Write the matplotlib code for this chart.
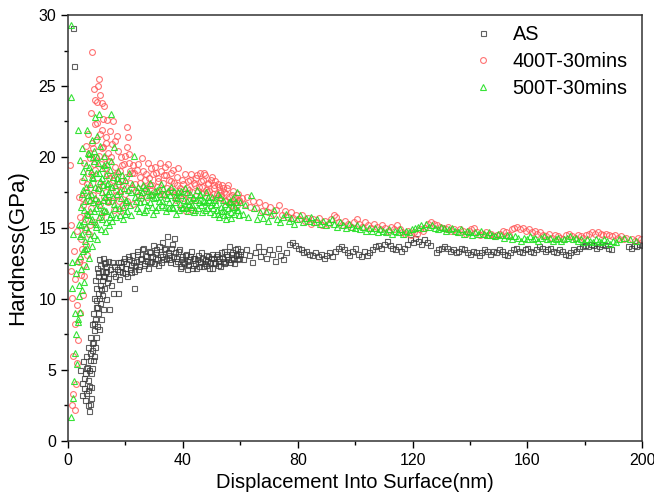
import matplotlib.pyplot as plt
from matplotlib.ticker import MultipleLocator

plt.rcParams['font.family'] = ['Liberation Sans', 'DejaVu Sans']

# ---- AS (black squares) ----
as_x = [1.8, 2.2,
        4.3, 4.8, 5.2, 5.5, 5.8, 6.0, 6.2, 6.4, 6.6, 6.8,
        7.0, 7.1, 7.3, 7.4, 7.6, 7.8, 7.9, 8.0, 8.2, 8.3,
        8.5, 8.6, 8.8, 8.9, 9.1, 9.2, 9.4, 9.5, 9.7, 9.8,
        10.0, 10.1, 10.3, 10.4, 10.6, 10.8, 10.9, 11.1, 11.3, 11.5,
        11.7, 11.9, 12.1, 12.3, 12.5, 12.7, 12.9, 13.1, 13.3, 13.6,
        13.8, 14.1, 14.3, 14.6, 14.9, 15.2, 15.5, 15.8, 16.1, 16.4,
        17.4, 22.9,
        17.0, 17.6, 18.2, 18.8, 19.4, 20.0, 20.6, 21.2, 21.8, 22.4,
        23.0, 23.6, 24.2, 24.8, 25.4, 26.0, 26.6, 27.2, 27.8, 28.4,
        29.0, 29.6, 30.2, 30.8, 31.4, 32.0, 32.6, 33.2, 33.8, 34.4,
        35.0, 35.6, 36.2, 36.8, 37.4, 38.0, 38.6, 39.2, 39.8, 40.4,
        41.0, 41.6, 42.2, 42.8, 43.4, 44.0, 44.6, 45.2, 45.8, 46.4,
        47.0, 47.6, 48.2, 48.8, 49.4, 50.0, 50.6, 51.2, 51.8, 52.4,
        53.0, 53.6, 54.2, 54.8, 55.4, 56.0, 56.6, 57.2, 57.8, 58.4,
        59.0, 59.6,
        60, 61, 62, 63, 64, 65, 66, 67, 68, 69,
        70, 71, 72, 73, 74, 75, 76, 77, 78, 79,
        80, 81, 82, 83, 84, 85, 86, 87, 88, 89,
        90, 91, 92, 93, 94, 95, 96, 97, 98, 99,
        100, 101, 102, 103, 104, 105, 106, 107, 108, 109,
        110, 111, 112, 113, 114, 115, 116, 117, 118, 119,
        120, 121, 122, 123, 124, 125, 126,
        128, 129, 130, 131, 132, 133, 134, 135, 136, 137,
        138, 139, 140, 141, 142, 143, 144, 145, 146, 147,
        148, 149, 150, 151, 152, 153, 154, 155, 156, 157,
        158, 159, 160, 161, 162, 163, 164, 165, 166, 167,
        168, 169, 170, 171, 172, 173, 174, 175, 176, 177,
        178, 179, 180, 181, 182, 183, 184, 185, 186, 187,
        188, 189,
        195, 196, 197, 198, 199, 200]
as_y = [29.1, 26.4,
        5.0, 4.1, 5.6, 3.7, 4.8, 2.9, 6.0, 3.4, 5.2, 2.5,
        4.3, 6.6, 2.1, 3.9, 5.7, 7.3, 3.0, 4.8, 6.4, 8.2,
        5.1, 7.0, 9.0, 6.0, 7.8, 10.1, 8.6, 11.3, 7.3, 9.4,
        12.2, 8.1, 10.4, 9.0, 11.6, 7.9, 12.8, 9.7, 11.0, 8.6,
        12.0, 10.3, 11.6, 9.3, 12.5, 10.8, 11.9, 10.0, 12.3, 11.2,
        12.7, 11.5, 9.3, 12.1, 11.0, 12.6, 11.8, 10.4, 12.3, 11.6,
        10.4, 10.8,
        12.1, 11.4, 12.6, 11.9, 12.9, 12.2, 11.6, 12.8, 12.4, 13.1,
        12.0, 12.7, 13.4, 12.3, 12.9, 13.6, 12.5, 13.0, 12.2, 13.3,
        12.7, 13.8, 12.9, 13.5, 12.4, 13.2, 14.0, 12.8, 13.6, 14.4,
        13.1, 12.6, 13.9, 14.3, 13.3, 12.7, 13.5, 12.3, 13.0, 12.5,
        13.2, 12.1, 12.8, 13.4, 12.4, 12.9, 12.2, 13.1, 12.6, 13.3,
        12.3, 12.8, 12.4, 13.0, 12.6, 12.2, 12.9, 12.5, 13.2, 12.7,
        12.3, 12.9, 13.4, 12.6, 13.0, 13.7, 12.8, 13.3, 12.5, 13.1,
        13.6, 12.9,
        13.2, 12.8, 13.5, 13.1, 12.6, 13.3, 13.7, 13.0, 13.4, 12.9,
        13.5, 13.2, 12.7, 13.6, 13.1, 12.8, 13.3, 13.9, 14.0, 13.8,
        13.6, 13.5, 13.3, 13.4, 13.2, 13.1, 13.3, 13.0, 13.2, 12.9,
        13.1, 13.3, 13.0, 13.4, 13.6, 13.7, 13.5, 13.3, 13.1, 13.4,
        13.6, 13.2, 13.0, 13.4, 13.1, 13.3, 13.5, 13.7, 13.8, 13.6,
        13.9, 14.1, 13.8, 13.6, 13.5, 13.7, 13.4, 13.6, 13.9, 14.2,
        14.0, 14.3, 14.1, 13.9, 14.2, 14.0, 13.8,
        13.3, 13.5, 13.6, 13.7, 13.6, 13.4, 13.5, 13.3, 13.4, 13.6,
        13.5, 13.3, 13.2, 13.4, 13.3, 13.1, 13.3, 13.5, 13.4, 13.2,
        13.4, 13.3, 13.5, 13.4, 13.2, 13.1, 13.3, 13.5, 13.6, 13.4,
        13.3, 13.5, 13.6, 13.4, 13.3, 13.5, 13.7, 13.6, 13.4, 13.5,
        13.6, 13.4, 13.3, 13.5, 13.4, 13.2, 13.1, 13.3, 13.5, 13.4,
        13.6, 13.7, 13.8, 13.7, 13.9, 13.8, 13.6, 13.7, 13.9, 13.8,
        13.6, 13.5,
        13.7, 13.6, 13.8, 13.7, 13.9, 13.8]
# second pass of AS readings in the dense part (rise + near-surface plateau)
as_x2 = [5.0, 5.7, 6.3, 6.9, 7.2, 7.5, 7.7, 8.1, 8.4, 8.7,
         9.0, 9.3, 9.6, 9.9, 10.2, 10.5, 10.7, 11.0, 11.4, 11.8,
         12.2, 12.6, 13.0, 13.4,
         17.3, 17.9, 18.5, 19.1, 19.7, 20.3, 20.9, 21.5, 22.1, 22.7,
         23.3, 23.9, 24.5, 25.1, 25.7, 26.3, 26.9, 27.5, 28.1, 28.7,
         29.3, 29.9, 30.5, 31.1, 31.7, 32.3, 32.9, 33.5, 34.1, 34.7,
         35.3, 35.9, 36.5, 37.1, 37.7, 38.3, 38.9, 39.5, 40.1, 40.7,
         41.3, 41.9, 42.5, 43.1, 43.7, 44.3, 44.9, 45.5, 46.1, 46.7,
         47.3, 47.9, 48.5, 49.1, 49.7, 50.3, 50.9, 51.5, 52.1, 52.7,
         53.3, 53.9, 54.5, 55.1, 55.7, 56.3, 56.9, 57.5, 58.1, 58.7,
         59.3, 59.9]
as_y2 = [3.2, 4.4, 5.1, 3.6, 5.0, 2.6, 6.2, 3.8, 6.9, 5.7,
         8.3, 6.6, 9.9, 10.8, 9.4, 11.9, 10.1, 12.4, 10.7, 11.3,
         12.9, 11.6, 12.6, 12.0,
         12.6, 12.0, 12.3, 12.7, 11.8, 12.5, 13.0, 12.1, 11.9, 12.6,
         12.4, 13.2, 12.1, 12.8, 13.5, 12.4, 13.1, 12.7, 13.4, 12.6,
         13.0, 12.5, 13.3, 12.8, 13.7, 12.6, 13.0, 13.5, 12.9, 13.3,
         12.8, 13.6, 13.0, 12.5, 12.9, 13.4, 12.2, 12.8, 12.6, 13.1,
         12.7, 12.4, 13.0, 12.2, 12.9, 12.5, 12.8, 12.3, 12.7, 12.9,
         12.5, 13.1, 12.7, 12.2, 12.9, 13.2, 12.6, 13.0, 12.4, 12.9,
         13.3, 12.7, 12.5, 13.2, 12.8, 12.6, 13.2, 12.9, 13.5, 12.8,
         13.2, 13.4]

# ---- 400T-30mins (red circles) ----
t400_x = [0.6, 0.9, 1.1, 1.3, 1.5, 1.7, 1.9, 2.1, 2.3, 2.4,
          2.6, 2.8, 3.0, 3.1, 3.3, 3.5, 3.7, 3.9,
          4.1, 4.3, 4.5, 4.7, 4.9, 5.1, 5.3, 5.5, 5.7, 5.9,
          6.1, 6.3, 6.5, 6.7, 6.9, 7.1, 7.3, 7.5, 7.7, 7.9,
          8.1, 8.3, 8.5, 8.7, 8.9, 9.1, 9.3, 9.5, 9.7, 9.9,
          10.1, 10.3, 10.5, 10.7, 10.9, 11.1, 11.3, 11.5, 11.7, 11.9,
          12.1, 12.3, 12.5, 12.7, 12.9, 13.1, 13.3, 13.5, 13.7, 13.9,
          14.1, 14.4, 14.7, 15.0, 15.3, 15.6, 15.9, 16.2, 16.5, 16.8,
          17.1, 17.4, 17.7, 18.0, 18.3, 18.6, 18.9, 19.2, 19.5, 19.8,
          20.1, 20.4, 20.7, 21.0, 21.3, 21.6, 21.9, 22.2, 22.5, 22.8,
          23.1, 23.7, 24.3, 24.9, 25.5, 26.1, 26.7, 27.3, 27.9, 28.5,
          29.1, 29.7, 30.3, 30.9, 31.5, 32.1, 32.7, 33.3, 33.9, 34.5,
          35.1, 35.7, 36.3, 36.9, 37.5, 38.1, 38.7, 39.3, 39.9, 40.5,
          41.1, 41.7, 42.3, 42.9, 43.5, 44.1, 44.7, 45.3, 45.9, 46.5,
          47.1, 47.7, 48.3, 48.9, 49.5, 50.1, 50.7, 51.3, 51.9, 52.5,
          53.1, 53.7, 54.3, 54.9, 55.5, 56.1, 56.7, 57.3, 57.9, 58.5,
          59.1, 59.7,
          60.5, 61.5, 62.5, 63.5, 64.5, 65.5, 66.5, 67.5, 68.5, 69.5,
          70.5, 71.5, 72.5, 73.5, 74.5, 75.5, 76.5, 77.5, 78.5, 79.5,
          80.5, 81.5, 82.5, 83.5, 84.5, 85.5, 86.5, 87.5, 88.5, 89.5,
          90.5, 91.5, 92.5, 93.5, 94.5, 95.5, 96.5, 97.5, 98.5, 99.5,
          100.5, 101.5, 102.5, 103.5, 104.5, 105.5, 106.5, 107.5, 108.5, 109.5,
          110.5, 111.5, 112.5, 113.5, 114.5, 115.5, 116.5, 117.5, 118.5, 119.5,
          120.5, 121.5, 122.5, 123.5, 124.5, 125.5, 126.5, 127.5, 128.5, 129.5,
          130.5, 131.5, 132.5, 133.5, 134.5, 135.5, 136.5, 137.5, 138.5, 139.5,
          140.5, 141.5, 142.5, 143.5, 144.5, 145.5, 146.5, 147.5, 148.5, 149.5,
          150.5, 151.5, 152.5, 153.5, 154.5, 155.5, 156.5, 157.5, 158.5, 159.5,
          160.5, 161.5, 162.5, 163.5, 164.5, 165.5, 166.5, 167.5, 168.5, 169.5,
          170.5, 171.5, 172.5, 173.5, 174.5, 175.5, 176.5, 177.5, 178.5, 179.5,
          180.5, 181.5, 182.5, 183.5, 184.5, 185.5, 186.5, 187.5, 188.5, 189.5,
          190.5, 191.5, 192.5, 193.5, 194.5, 196.5, 197.5, 198.5, 199.5]
t400_y = [19.4, 15.2, 12.0, 2.5, 10.1, 6.0, 3.3, 13.4, 2.2, 8.2,
          11.4, 4.0, 9.6, 5.5, 14.8, 7.1, 12.6, 17.2,
          9.0, 15.8, 11.7, 18.3, 13.5, 10.3, 16.6, 19.6, 12.4, 14.9,
          17.5, 20.8, 13.1, 16.0, 18.9, 21.6, 14.6, 17.8, 19.9, 23.1,
          16.4, 27.4, 18.7, 20.6, 24.8, 15.4, 22.3, 19.1, 17.0, 21.2,
          23.9, 18.2, 25.0, 20.1, 25.5, 16.7, 24.4, 19.5, 21.9, 23.8,
          18.0, 20.7, 16.1, 23.6, 19.2, 21.4, 17.5, 22.6, 18.8, 20.3,
          16.8, 19.7, 21.8, 17.9, 20.9, 18.4, 16.3, 19.3, 21.1, 17.6,
          18.9, 20.4, 16.9, 19.0, 17.7, 20.0, 18.3, 16.6, 19.5, 17.4,
          18.6, 20.7, 22.1, 21.4, 20.2, 19.0, 17.8, 18.9, 16.7, 19.4,
          18.9, 17.6, 19.5, 18.2, 17.1, 19.0, 18.4, 17.7, 19.6, 18.0,
          17.3, 18.8, 19.3, 17.9, 18.5, 19.6, 17.4, 18.7, 19.3, 17.8,
          18.4, 18.9, 17.5, 18.2, 17.0, 18.6, 17.6, 16.4, 18.1, 17.4,
          16.2, 18.3, 17.7, 18.8, 16.3, 18.0, 18.5, 17.6, 18.9, 17.9,
          18.4, 18.7, 17.5, 18.1, 17.2, 18.6, 17.8, 18.3, 17.4, 17.9,
          17.1, 18.0, 17.5, 16.9, 17.8, 17.2, 16.6, 17.6, 17.0, 16.8,
          17.4, 16.9,
          17.1, 16.7, 17.2, 16.5, 16.9, 16.4, 16.8, 16.2, 16.6, 16.1,
          16.5, 16.0, 16.3, 16.6, 15.9, 16.2, 15.8, 16.1, 15.7, 15.9,
          15.6, 15.9, 15.5, 15.7, 15.3, 15.6, 15.4, 15.7, 15.2, 15.5,
          15.3, 15.6, 15.9, 15.8, 15.4, 15.2, 15.5, 15.3, 15.1, 15.4,
          15.6, 15.3, 15.1, 15.4, 15.2, 15.0, 15.3, 15.1, 14.9, 15.2,
          15.0, 14.8, 15.1, 14.9, 15.2, 14.9, 14.7, 14.6, 14.8, 14.5,
          14.7, 14.6, 14.9, 14.8, 15.0, 15.3, 15.4, 15.3, 15.2, 15.1,
          15.0, 14.9, 15.1, 14.8, 14.9, 14.7, 14.9, 14.8, 14.6, 14.8,
          14.9, 15.0, 14.7, 14.5, 14.6, 14.7, 14.5, 14.6, 14.4, 14.5,
          14.6, 14.8, 14.7, 14.5, 14.9, 15.0, 15.1, 14.9, 15.0, 14.8,
          14.9, 14.7, 14.8, 14.6, 14.7, 14.5, 14.4, 14.6, 14.3, 14.5,
          14.4, 14.3, 14.2, 14.5, 14.6, 14.4, 14.3, 14.5, 14.4, 14.3,
          14.5, 14.6, 14.7, 14.6, 14.7, 14.6, 14.5, 14.6, 14.5, 14.4,
          14.5, 14.3, 14.4, 14.2, 14.3, 14.2, 14.1, 14.3, 14.2]
t400_x2 = [4.2, 4.6, 5.0, 5.4, 5.8, 6.2, 6.6, 7.0, 7.4, 7.8,
           8.2, 8.6, 9.0, 9.4, 9.8, 10.2, 10.6, 11.0, 11.4, 11.8,
           12.2, 12.6, 13.0, 13.4, 13.8, 14.3, 14.8, 15.2, 15.7, 16.1,
           16.6, 17.0, 17.5, 18.1, 18.7, 19.3, 19.9, 20.5, 21.1, 21.7,
           23.4, 24.0, 24.6, 25.2, 25.8, 26.4, 27.0, 27.6, 28.2, 28.8,
           29.4, 30.0, 30.6, 31.2, 31.8, 32.4, 33.0, 33.6, 34.2, 34.8,
           35.4, 36.0, 36.6, 37.2, 37.8, 38.4, 39.0, 39.6, 40.2, 40.8,
           41.4, 42.0, 42.6, 43.2, 43.8, 44.4, 45.0, 45.6, 46.2, 46.8,
           47.4, 48.0, 48.6, 49.2, 49.8, 50.4, 51.0, 51.6, 52.2, 52.8,
           53.4, 54.0, 54.6, 55.2, 55.8, 56.4, 57.0, 57.6, 58.2, 58.8,
           59.4]
t400_y2 = [12.8, 14.2, 17.1, 11.6, 15.6, 13.8, 18.1, 16.9, 20.3, 15.2,
           21.0, 17.3, 19.5, 24.0, 20.0, 22.4, 17.7, 21.6, 15.8, 20.6,
           22.7, 17.2, 19.9, 21.0, 17.0, 18.5, 20.0, 16.9, 22.5, 18.7,
           17.3, 21.5, 18.1, 16.2, 19.4, 18.0, 20.1, 16.9, 19.6, 18.2,
           18.1, 19.1, 17.3, 18.6, 19.9, 17.9, 18.8, 17.2, 18.5, 19.2,
           18.0, 17.5, 18.9, 18.3, 17.6, 19.0, 18.2, 17.3, 18.7, 19.5,
           17.7, 18.3, 19.1, 17.3, 18.0, 19.2, 17.8, 18.4, 17.1, 18.8,
           17.8, 16.9, 18.4, 17.5, 18.2, 17.0, 18.7, 17.9, 18.3, 17.4,
           18.9, 17.7, 18.2, 17.6, 18.4, 17.4, 18.0, 17.1, 18.1, 17.6,
           17.3, 17.8, 16.9, 17.4, 18.0, 16.8, 17.3, 16.5, 17.2, 16.6,
           17.0]

# ---- 500T-30mins (green triangles) ----
t500_x = [1.2, 1.1, 1.0, 1.3, 1.5, 1.7, 1.9, 2.1, 2.3, 2.5,
          2.7, 2.9, 3.1, 3.3, 3.5, 3.6, 3.8, 3.9,
          4.1, 4.2, 4.3, 4.5, 4.6, 4.8, 4.9, 5.1, 5.2, 5.4,
          5.5, 5.7, 5.8, 6.0, 6.1, 6.3, 6.4, 6.6, 6.7, 6.9,
          7.0, 7.2, 7.3, 7.5, 7.6, 7.8, 7.9, 8.1, 8.2, 8.4,
          8.5, 8.7, 8.8, 9.0, 9.1, 9.3, 9.4, 9.6, 9.7, 9.9,
          10.0, 10.2, 10.3, 10.5, 10.7, 10.8, 11.0, 11.2, 11.3, 11.5,
          11.7, 11.8, 12.0, 12.2, 12.4, 12.6, 12.8, 13.0, 13.2, 13.4,
          13.6, 13.8, 14.0, 14.2, 14.4, 14.6, 14.8, 15.0, 15.2, 15.4,
          15.6, 15.9, 16.1, 16.4, 16.7, 17.0, 17.3, 17.6, 17.9, 18.2,
          18.5, 18.8, 19.1, 19.4, 19.7, 20.0, 20.3, 20.6, 20.9, 21.2,
          21.5, 21.8, 22.1, 22.4, 22.9,
          23.3, 23.9, 24.5, 25.1, 25.7, 26.3, 26.9, 27.5, 28.1, 28.7,
          29.3, 29.9, 30.5, 31.1, 31.7, 32.3, 32.9, 33.5, 34.1, 34.7,
          35.3, 35.9, 36.5, 37.1, 37.7, 38.3, 38.9, 39.5, 40.1, 40.7,
          41.3, 41.9, 42.5, 43.1, 43.7, 44.3, 44.9, 45.5, 46.1, 46.7,
          47.3, 47.9, 48.5, 49.1, 49.7, 50.3, 50.9, 51.5, 52.1, 52.7,
          53.3, 53.9, 54.5, 55.1, 55.7, 56.3, 56.9, 57.5, 58.1, 58.7,
          59.3, 59.9,
          60.8, 61.8, 62.8, 63.8, 64.8, 65.8, 66.8, 67.8, 68.8, 69.8,
          70.8, 71.8, 72.8, 73.8, 74.8, 75.8, 76.8, 77.8, 78.8, 79.8,
          80.8, 81.8, 82.8, 83.8, 84.8, 85.8, 86.8, 87.8, 88.8, 89.8,
          90.8, 91.8, 92.8, 93.8, 94.8, 95.8, 96.8, 97.8, 98.8, 99.8,
          100.8, 101.8, 102.8, 103.8, 104.8, 105.8, 106.8, 107.8, 108.8, 109.8,
          110.8, 111.8, 112.8, 113.8, 114.8, 115.8, 116.8, 117.8, 118.8, 119.8,
          120.8, 121.8, 122.8, 123.8, 124.8, 125.8, 126.8, 127.8, 128.8, 129.8,
          130.8, 131.8, 132.8, 133.8, 134.8, 135.8, 136.8, 137.8, 138.8, 139.8,
          140.8, 141.8, 142.8, 143.8, 144.8, 145.8, 146.8, 147.8, 148.8, 149.8,
          150.8, 151.8, 152.8, 153.8, 154.8, 155.8, 156.8, 157.8, 158.8, 159.8,
          160.8, 161.8, 162.8, 163.8, 164.8, 165.8, 166.8, 167.8, 168.8, 169.8,
          170.8, 171.8, 172.8, 173.8, 174.8, 175.8, 176.8, 177.8, 178.8, 179.8,
          180.8, 181.8, 182.8, 183.8, 184.8, 185.8, 186.8, 187.8, 188.8, 189.8,
          190.8, 191.8, 193.8, 195.8, 197.8]
t500_y = [29.3, 24.2, 1.7, 10.8, 12.6, 3.0, 14.6, 4.2, 9.0, 6.2,
          11.8, 7.5, 12.7, 5.4, 21.9, 8.4, 15.3, 10.2,
          14.4, 19.8, 9.1, 16.5, 12.1, 20.6, 10.6, 17.7, 13.4, 15.5,
          11.2, 18.6, 14.1, 16.9, 12.3, 19.4, 15.1, 21.9, 13.6, 17.3,
          15.9, 20.2, 12.9, 18.1, 16.2, 14.3, 19.0, 17.4, 13.7, 21.2,
          15.6, 18.5, 16.8, 14.5, 20.4, 17.1, 22.8, 15.3, 18.9, 16.4,
          21.5, 14.2, 17.8, 19.6, 23.0, 15.8, 18.3, 16.6, 20.8, 14.9,
          17.5, 19.2, 15.6, 18.0, 16.3, 20.1, 14.8, 17.2, 18.7, 15.4,
          19.5, 16.9, 18.2, 15.2, 17.6, 19.1, 16.0, 23.0, 17.9, 15.5,
          18.6, 20.7, 16.7, 18.0, 15.8, 17.4, 19.0, 16.4, 18.3, 15.9,
          17.1, 18.7, 16.5, 17.8, 16.0, 18.4, 17.0, 16.2, 17.7, 18.9,
          16.6, 17.5, 15.9, 18.1, 20.1,
          17.2, 16.4, 17.9, 16.8, 17.5, 16.1, 17.8, 16.6, 17.3, 18.2,
          16.5, 17.1, 16.3, 17.7, 16.9, 18.1, 16.6, 17.4, 16.2, 17.6,
          16.8, 17.9, 16.4, 17.2, 16.0, 17.5, 16.7, 17.3, 16.5, 17.8,
          16.9, 16.2, 17.4, 16.6, 17.1, 16.3, 17.7, 16.8, 17.3, 16.1,
          16.9, 17.5, 16.4, 17.0, 16.6, 17.2, 16.0, 16.7, 17.4, 15.8,
          16.5, 17.0, 16.2, 15.6, 16.4, 16.9, 16.1, 17.1, 16.5, 17.5,
          16.3, 16.8,
          16.0, 16.6, 15.8, 17.3, 16.4, 15.6, 16.1, 15.7, 16.2, 15.5,
          15.9, 16.3, 15.6, 15.4, 15.8, 16.0, 15.5, 15.7, 15.3, 15.6,
          15.9, 15.4, 15.7, 15.5, 15.8, 15.4, 15.6, 15.3, 15.5, 15.2,
          15.4, 15.6, 15.3, 15.1, 15.4, 15.2, 15.0, 15.3, 15.1, 15.0,
          15.2, 14.9, 15.1, 14.8, 15.0, 14.8, 15.0, 14.7, 14.9, 14.8,
          14.7, 14.9, 14.6, 14.8, 14.7, 14.9, 14.6, 14.8, 14.7, 14.9,
          15.0, 15.1, 15.2, 15.0, 15.3, 15.1, 15.2, 15.0, 14.9, 15.1,
          15.0, 14.8, 14.9, 15.0, 14.8, 14.7, 14.9, 14.6, 14.8, 14.7,
          14.5, 14.7, 14.6, 14.8, 14.6, 14.5, 14.7, 14.5, 14.4, 14.6,
          14.5, 14.3, 14.5, 14.4, 14.2, 14.4, 14.3, 14.1, 14.3, 14.2,
          14.4, 14.2, 14.3, 14.1, 14.3, 14.4, 14.2, 14.3, 14.1, 14.2,
          14.3, 14.1, 14.2, 14.3, 14.4, 14.2, 14.3, 14.1, 14.2, 14.0,
          14.2, 14.1, 14.0, 14.2, 14.1, 14.0, 14.2, 14.1, 13.9, 14.1,
          14.0, 14.2, 14.3, 14.2, 14.1]
t500_x2 = [3.4, 3.7, 4.0, 4.4, 4.7, 5.0, 5.3, 5.6, 5.9, 6.2,
           6.5, 6.8, 7.1, 7.4, 7.7, 8.0, 8.3, 8.6, 8.9, 9.2,
           9.5, 9.8, 10.1, 10.4, 10.9, 11.4, 11.9, 12.3, 12.7, 13.1,
           13.5, 13.9, 14.5, 15.1, 15.7, 16.3, 17.1, 18.0, 19.0, 20.1,
           23.6, 24.2, 24.8, 25.4, 26.0, 26.6, 27.2, 27.8, 28.4, 29.0,
           29.6, 30.2, 30.8, 31.4, 32.0, 32.6, 33.2, 33.8, 34.4, 35.0,
           35.6, 36.2, 36.8, 37.4, 38.0, 38.6, 39.2, 39.8, 40.4, 41.0,
           41.6, 42.2, 42.8, 43.4, 44.0, 44.6, 45.2, 45.8, 46.4, 47.0,
           47.6, 48.2, 48.8, 49.4, 50.0, 50.6, 51.2, 51.8, 52.4, 53.0,
           53.6, 54.2, 54.8, 55.4, 56.0, 56.6, 57.2, 57.8, 58.4, 59.0,
           59.6]
t500_y2 = [8.6, 11.0, 13.0, 15.2, 17.4, 14.6, 19.0, 16.3, 13.5, 17.9,
           16.0, 20.3, 14.8, 19.3, 17.0, 15.5, 18.6, 20.0, 16.2, 19.7,
           17.9, 15.1, 20.0, 16.9, 18.9, 16.1, 18.5, 17.0, 19.4, 16.2,
           18.1, 17.4, 15.8, 19.7, 17.2, 16.4, 18.5, 17.6, 15.6, 16.8,
           16.9, 17.6, 16.2, 17.3, 18.0, 16.9, 16.3, 17.6, 16.8, 17.4,
           16.0, 17.6, 17.2, 16.5, 17.4, 16.9, 17.8, 16.5, 17.1, 16.4,
           17.3, 16.5, 17.6, 16.8, 17.1, 16.3, 17.6, 16.4, 17.0, 16.4,
           17.5, 16.7, 16.5, 17.2, 16.1, 17.0, 16.4, 17.4, 16.6, 17.0,
           16.3, 16.8, 17.2, 16.1, 16.8, 16.4, 17.0, 16.3, 16.0, 17.2,
           16.2, 15.9, 16.7, 16.0, 16.8, 15.7, 16.5, 16.0, 16.8, 16.3,
           15.9]

fig = plt.figure(figsize=(6.54, 5.01), dpi=100)
ax = fig.add_axes([0.104, 0.12, 0.878, 0.85])

as_style = dict(linestyle='none', marker='s', markersize=3.6, markerfacecolor='none',
                markeredgecolor='#3a3a3a', markeredgewidth=0.8, alpha=0.8)
t400_style = dict(linestyle='none', marker='o', markersize=4.2, markerfacecolor='none',
                  markeredgecolor='#ff5a5a', markeredgewidth=0.8, alpha=0.85)
t500_style = dict(linestyle='none', marker='^', markersize=4.6, markerfacecolor='none',
                  markeredgecolor='#22e022', markeredgewidth=0.8, alpha=0.9)

ax.plot(as_x, as_y, label='AS', **as_style)
ax.plot(as_x2, as_y2, **as_style)
ax.plot(t400_x, t400_y, label='400T-30mins', **t400_style)
ax.plot(t400_x2, t400_y2, **t400_style)
ax.plot(t500_x, t500_y, label='500T-30mins', **t500_style)
ax.plot(t500_x2, t500_y2, **t500_style)

ax.set_xlim(0, 200)
ax.set_ylim(0, 30)
ax.xaxis.set_major_locator(MultipleLocator(40))
ax.xaxis.set_minor_locator(MultipleLocator(20))
ax.yaxis.set_major_locator(MultipleLocator(5))
ax.yaxis.set_minor_locator(MultipleLocator(2.5))
ax.tick_params(which='both', direction='out', top=False, right=False,
               labelsize=11.5, width=1.0)
ax.tick_params(which='major', length=5)
ax.tick_params(which='minor', length=3)
for sp in ax.spines.values():
    sp.set_linewidth(1.1)
    sp.set_color('#333333')

ax.set_xlabel('Displacement Into Surface(nm)', fontsize=14.5)
ax.set_ylabel('Hardness(GPa)', fontsize=16)
ax.xaxis.set_label_coords(0.5, -0.075)
ax.yaxis.set_label_coords(-0.07, 0.455)

ax.legend(loc='upper left', bbox_to_anchor=(473 / 654, 0.950),
          bbox_transform=fig.transFigure, frameon=False, fontsize=14.3,
          handlelength=1.0, handletextpad=1.0, labelspacing=0.4,
          borderpad=0, borderaxespad=0)

fig.savefig('out.png', dpi=100)
